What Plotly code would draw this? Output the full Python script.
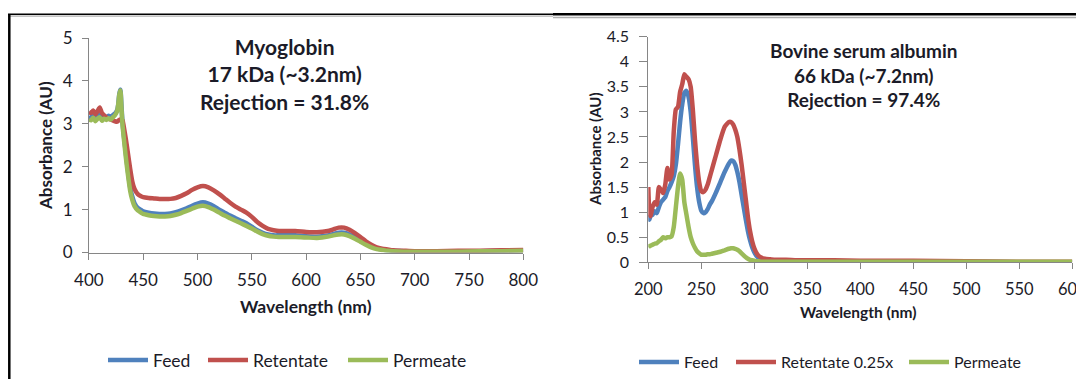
import plotly.graph_objects as go

# The page body has an 8px margin, so the figure is placed 8px in from the window edge.
OFF = 8
W, H = 1084 - OFF, 379 - OFF

# ---------------- Myoglobin panel data ----------------
wl_myo = [400, 402, 404, 406, 408, 410, 412, 414, 416, 418, 420, 422, 424, 426, 427, 428, 429, 430,
          431, 432, 434, 436, 438, 440, 442, 445, 448, 450, 455, 460, 465, 470, 475, 480, 485, 490,
          495, 500, 505, 510, 515, 520, 525, 530, 535, 540, 545, 550, 555, 560, 565, 570, 575, 580,
          590, 600, 610, 620, 625, 630, 635, 640, 645, 650, 655, 660, 665, 670, 675, 680, 690, 700,
          720, 740, 760, 780, 800]
feed_myo = [3.18, 3.14, 3.2, 3.12, 3.17, 3.22, 3.13, 3.18, 3.15, 3.19, 3.16, 3.2, 3.24, 3.32, 3.45, 3.7, 3.8, 3.42,
            3.02, 2.77, 2.32, 1.88, 1.52, 1.3, 1.15, 1.04, 0.99, 0.96, 0.93, 0.91, 0.9, 0.9, 0.91, 0.94, 0.98, 1.03,
            1.09, 1.14, 1.17, 1.14, 1.08, 1.0, 0.93, 0.86, 0.8, 0.74, 0.68, 0.6, 0.52, 0.46, 0.42, 0.4, 0.4, 0.4,
            0.4, 0.38, 0.37, 0.4, 0.43, 0.46, 0.46, 0.42, 0.36, 0.28, 0.2, 0.14, 0.1, 0.07, 0.05, 0.04, 0.03, 0.02,
            0.02, 0.03, 0.03, 0.04, 0.05]
ret_myo = [3.28, 3.25, 3.31, 3.22, 3.3, 3.38, 3.25, 3.2, 3.15, 3.12, 3.1, 3.08, 3.06, 3.05, 3.07, 3.09, 3.1, 3.1,
           3.08, 2.95, 2.65, 2.3, 1.95, 1.65, 1.48, 1.36, 1.31, 1.29, 1.27, 1.26, 1.25, 1.25, 1.25, 1.27, 1.32, 1.38,
           1.46, 1.52, 1.55, 1.52, 1.45, 1.36, 1.26, 1.16, 1.07, 1.0, 0.93, 0.83, 0.71, 0.62, 0.55, 0.52, 0.5, 0.5,
           0.5, 0.48, 0.47, 0.5, 0.54, 0.58, 0.58, 0.53, 0.45, 0.36, 0.26, 0.18, 0.12, 0.09, 0.07, 0.05, 0.04, 0.03,
           0.03, 0.04, 0.04, 0.05, 0.06]
perm_myo = [3.1, 3.08, 3.14, 3.06, 3.12, 3.15, 3.07, 3.12, 3.09, 3.13, 3.1, 3.15, 3.2, 3.3, 3.45, 3.68, 3.78, 3.36,
            2.96, 2.7, 2.22, 1.8, 1.44, 1.22, 1.08, 0.98, 0.93, 0.9, 0.87, 0.85, 0.84, 0.84, 0.85, 0.88, 0.92, 0.97,
            1.02, 1.07, 1.09, 1.06, 1.0, 0.93, 0.86, 0.8, 0.74, 0.68, 0.62, 0.56, 0.49, 0.43, 0.39, 0.37, 0.36, 0.36,
            0.36, 0.35, 0.34, 0.37, 0.4, 0.42, 0.42, 0.38, 0.32, 0.25, 0.18, 0.12, 0.08, 0.06, 0.04, 0.03, 0.02, 0.02,
            0.02, 0.02, 0.03, 0.03, 0.04]

# ---------------- BSA panel data ----------------
wl_bsa = [200, 201, 202, 204, 206, 208, 210, 212, 214, 216, 218, 220, 222, 224, 226, 228, 230, 232, 234, 236,
          238, 240, 242, 244, 246, 248, 250, 252, 254, 256, 258, 260, 264, 268, 272, 276, 278, 280, 282, 284,
          286, 288, 290, 292, 294, 296, 298, 300, 302, 304, 306, 310, 315, 320, 330, 340, 350, 375, 400, 450,
          500, 550, 600]
feed_bsa = [0.9, 0.85, 0.92, 0.95, 1.02, 0.98, 1.1, 1.2, 1.25, 1.3, 1.42, 1.5, 1.6, 1.72, 1.95, 2.35, 2.8, 3.15, 3.38, 3.42,
            3.3, 3.0, 2.5, 1.95, 1.5, 1.2, 1.03, 0.98, 1.0, 1.06, 1.15, 1.22, 1.4, 1.6, 1.8, 1.97, 2.03, 2.02, 1.95, 1.8,
            1.6, 1.35, 1.1, 0.85, 0.62, 0.44, 0.3, 0.2, 0.13, 0.09, 0.07, 0.05, 0.04, 0.03, 0.03, 0.02, 0.02, 0.02, 0.01, 0.01,
            0.01, 0.0, 0.0]
ret_bsa = [1.5, 1.0, 0.92, 1.1, 1.2, 1.15, 1.5, 1.45, 1.38, 1.55, 1.88, 1.65, 1.75, 2.6, 3.05, 3.1, 3.4, 3.55, 3.75, 3.7,
           3.65, 3.5, 3.05, 2.45, 1.95, 1.6, 1.42, 1.4, 1.45, 1.55, 1.7, 1.85, 2.15, 2.45, 2.7, 2.8, 2.8, 2.75, 2.65, 2.5,
           2.25, 1.95, 1.6, 1.25, 0.9, 0.62, 0.42, 0.28, 0.19, 0.13, 0.1, 0.07, 0.06, 0.05, 0.05, 0.04, 0.04, 0.04, 0.03, 0.03,
           0.02, 0.01, 0.01]
perm_bsa = [0.3, 0.32, 0.33, 0.35, 0.37, 0.38, 0.42, 0.45, 0.5, 0.48, 0.5, 0.5, 0.52, 0.7, 1.1, 1.5, 1.77, 1.65, 1.2, 0.95,
            0.7, 0.5, 0.38, 0.29, 0.22, 0.18, 0.15, 0.15, 0.15, 0.16, 0.16, 0.17, 0.19, 0.21, 0.24, 0.27, 0.28, 0.28, 0.27, 0.25,
            0.22, 0.18, 0.14, 0.1, 0.07, 0.05, 0.04, 0.03, 0.02, 0.02, 0.01, 0.01, 0.01, 0.01, 0.01, 0.01, 0.01, 0.01, 0.01, 0.01,
            0.01, 0.01, 0.01]

names_myo = ["Feed", "Retentate", "Permeate"]
names_bsa = ["Feed", "Retentate 0.25x", "Permeate"]
colors = ["#4F81BD", "#C0504D", "#9BBB59"]

title_myo = "Myoglobin<br>17 kDa (~3.2nm)<br>Rejection = 31.8%"
title_bsa = "Bovine serum albumin<br>66 kDa (~7.2nm)<br>Rejection = 97.4%"

FONT = "Lato"
TXT = "#1b1b28"
AX = "#868686"


def px(x):  # window pixel -> paper fraction
    return (x - OFF) / W


def py(y):
    return 1 - (y - OFF) / H


fig = go.Figure()

legend_names = ["legend", "legend2", "legend3", "legend4", "legend5", "legend6"]
for i, (nm, ys) in enumerate(zip(names_myo, [feed_myo, ret_myo, perm_myo])):
    fig.add_trace(go.Scatter(x=wl_myo, y=ys, name=nm, mode="lines",
                             line=dict(color=colors[i], width=4.5, shape="spline", smoothing=0.6),
                             xaxis="x", yaxis="y", legend=legend_names[i]))
for i, (nm, ys) in enumerate(zip(names_bsa, [feed_bsa, ret_bsa, perm_bsa])):
    fig.add_trace(go.Scatter(x=wl_bsa, y=ys, name=nm, mode="lines",
                             line=dict(color=colors[i], width=4.5, shape="spline", smoothing=0.5),
                             xaxis="x2", yaxis="y2", legend=legend_names[3 + i]))


def axis(size, **kw):
    d = dict(showgrid=False, zeroline=False, showline=True, linecolor=AX, linewidth=1,
             ticks="outside", tickcolor=AX, ticklen=6, tickwidth=1, automargin=False,
             ticklabelstandoff=6, ticklabeloverflow="allow",
             tickfont=dict(family=FONT, size=size, color=TXT))
    d.update(kw)
    return d


layout = dict(
    width=W, height=H, margin=dict(l=0, r=0, t=0, b=0, pad=0, autoexpand=False),
    paper_bgcolor="white", plot_bgcolor="rgba(0,0,0,0)",
    showlegend=True,
    xaxis=axis(17, domain=[px(88.9), px(523.3)], range=[400, 800], tick0=400, dtick=50, anchor="y"),
    yaxis=axis(17, domain=[py(252.5), py(38)], range=[0, 5], tick0=0, dtick=1, anchor="x"),
    xaxis2=axis(16.5, domain=[px(648.3), px(1072.3)], range=[200, 600], tick0=200, dtick=50, anchor="y2"),
    yaxis2=axis(16, domain=[py(262.3), py(36.7)], range=[0, 4.5], tick0=0, dtick=0.5, anchor="x2",
                ticklen=8, ticklabelstandoff=7),
)

leg_pos = [(103, 360), (203, 360), (343, 360), (634, 362), (731, 362), (904, 362)]
leg_size = [17.5, 17.5, 17.5, 16, 16, 16]
for name, (lx, ly), fs in zip(legend_names, leg_pos, leg_size):
    layout[name] = dict(x=px(lx), y=py(ly), xanchor="left", yanchor="middle", orientation="h",
                        bgcolor="rgba(0,0,0,0)", borderwidth=0, itemwidth=40,
                        font=dict(family=FONT, size=fs, color=TXT))

fig.update_layout(**layout)


def label(x, y, text, size, angle=0, bold=True):
    fig.add_annotation(x=px(x), y=py(y), xref="paper", yref="paper", text=text, showarrow=False,
                       xanchor="center", yanchor="middle", textangle=angle, align="center",
                       font=dict(family=FONT, size=size, color=TXT, weight="bold" if bold else "normal"))


# chart titles
label(284, 74, title_myo, 21)
label(863, 75, title_bsa, 19)
# axis titles
label(306, 306, "Wavelength (nm)", 17.5)
label(858, 311.5, "Wavelength (nm)", 15.5)
label(45, 146, "Absorbance (AU)", 17, angle=-90)
label(595, 149, "Absorbance (AU)", 15, angle=-90)

# page frame lines
frame = [
    (8, 14.2, 553, 14.2, "black", 1.6),
    (8, 16.2, 553, 16.2, "#b0b0b0", 1.3),
    (9.3, 14, 9.3, 379, "black", 2.5),
    (553, 14.3, 1084, 14.3, "black", 2.6),
    (553, 17.6, 1084, 17.6, "#b0b0b0", 1.5),
]
for x0, y0, x1, y1, c, w in frame:
    fig.add_shape(type="line", xref="paper", yref="paper", x0=px(x0), y0=py(y0), x1=px(x1), y1=py(y1),
                  line=dict(color=c, width=w))

fig.write_html("out.html")
